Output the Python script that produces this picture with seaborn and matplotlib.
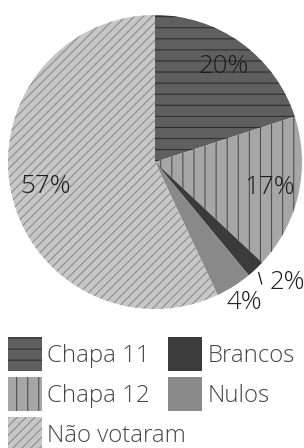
import numpy as np
import matplotlib
matplotlib.use("Agg")
import matplotlib.pyplot as plt
import seaborn as sns

# data
categories = ["Chapa 11", "Chapa 12", "Brancos", "Nulos", "Não votaram"]
shares = [20, 17, 2, 4, 57]
pct_labels = ["20%", "17%", "2%", "4%", "57%"]

face_colors = ["#5f5f5f", "#a6a6a6", "#3b3b3b", "#898989", "#c7c7c7"]
hatch_colors = ["#2e2e2e", "#4f4f4f", "#3b3b3b", "#898989", "#8c8c8c"]
hatches = ["--", "||", "", "", "/////"]

sns.set_theme(style="white")
plt.rcParams["font.family"] = ["Open Sans", "DejaVu Sans"]
plt.rcParams["hatch.linewidth"] = 0.6

DPI = 400 / 3
fig = plt.figure(figsize=(304 / DPI, 448 / DPI), dpi=DPI)
fig.patch.set_facecolor("white")

# pie centre (155,162) px, radius 147 px
R = 147
lim = 1.02
half = R * lim
ax = fig.add_axes([(155 - half) / 304, (448 - 162 - half) / 448,
                   2 * half / 304, 2 * half / 448])

wedges, _ = ax.pie(shares, colors=face_colors, startangle=90, counterclock=False,
                   wedgeprops=dict(linewidth=0))
for w, h, hc in zip(wedges, hatches, hatch_colors):
    w.set_hatch(h)
    w.set_edgecolor(hc)
    w.set_linewidth(0)

ax.set_xlim(-lim, lim)
ax.set_ylim(-lim, lim)
ax.set_aspect("equal")
ax.axis("off")

label_dist = [0.80, 0.80, None, 1.13, 0.76]
fs = 14
for w, lab, d in zip(wedges, pct_labels, label_dist):
    mid = np.deg2rad((w.theta1 + w.theta2) / 2)
    if d is None:
        continue
    ax.text(d * np.cos(mid), d * np.sin(mid), lab, ha="center", va="center",
            fontsize=fs, color="#1e1e1e", fontweight="light")

# 2% with leader line
wb = wedges[2]
mid = np.deg2rad((wb.theta1 + wb.theta2) / 2)
tmid = mid + np.deg2rad(0.3)
ax.annotate(pct_labels[2], xy=(1.03 * np.cos(mid), 1.03 * np.sin(mid)),
            xytext=(1.13 * np.cos(tmid), 1.13 * np.sin(tmid)),
            ha="left", va="center", fontsize=fs, color="#1e1e1e", fontweight="light",
            arrowprops=dict(arrowstyle="-", color="#1e1e1e", lw=0.7,
                            shrinkA=2, shrinkB=0, relpos=(0, 0.38),
                            connectionstyle="angle,angleA=0,angleB=105,rad=0"))

# legend: two columns of two, then Não votaram below
leg_kw = dict(frameon=False, handlelength=1.41, handleheight=1.79,
              handletextpad=0.22, labelspacing=0.25, borderpad=0, borderaxespad=0,
              loc="upper left", bbox_transform=fig.transFigure,
              prop=dict(weight="light", size=13))
order = [0, 1, 2, 3]
leg1 = fig.legend([wedges[i] for i in order], [categories[i] for i in order],
                  ncol=2, columnspacing=0.75,
                  bbox_to_anchor=(8 / 304, 1 - 337 / 448), **leg_kw)
leg2 = fig.legend([wedges[4]], [categories[4]],
                  bbox_to_anchor=(8 / 304, 1 - 417 / 448), **leg_kw)
for leg in (leg1, leg2):
    for t in leg.get_texts():
        t.set_color("#474747")

fig.savefig("out.png", dpi=DPI, facecolor="white")
